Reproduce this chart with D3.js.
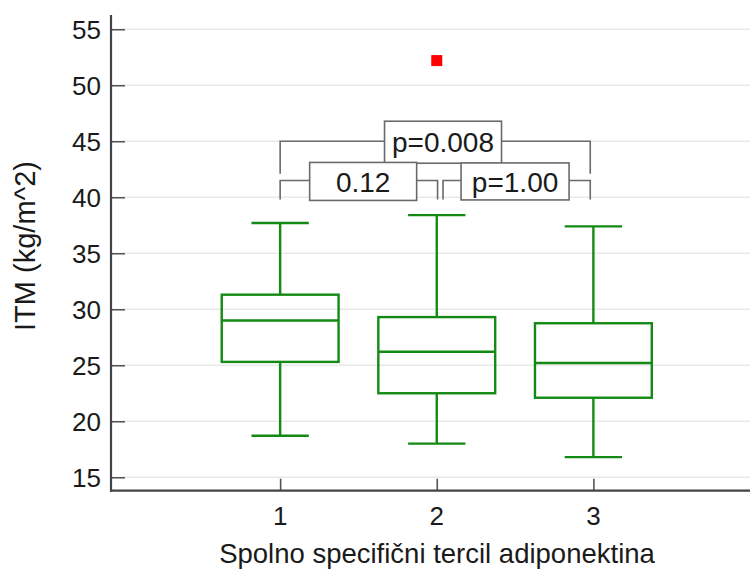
<!DOCTYPE html>
<html>
<head>
<meta charset="utf-8">
<script src="https://cdn.jsdelivr.net/npm/d3@7"></script>
<style>
  html, body { margin: 0; padding: 0; background: #fff; }
  svg { display: block; }
  text { font-family: "Liberation Sans", Arial, sans-serif; fill: #1a1a1a; }
</style>
</head>
<body>
<svg id="chart" width="750" height="571"></svg>
<script>
// ---- data ----
const categories = ["1", "2", "3"];
const whiskerLow  = [18.7, 18.0, 16.8];
const q1          = [25.3, 22.5, 22.1];
const medians     = [29.0, 26.2, 25.2];
const q3          = [31.3, 29.3, 28.75];
const whiskerHigh = [37.7, 38.4, 37.4];
const outlierCategory = ["2"];
const outlierValue    = [52.2];
const yTicks = [15, 20, 25, 30, 35, 40, 45, 50, 55];
const comparisonLabels = ["p=0.008", "0.12", "p=1.00"];
const comparisonFrom   = ["1", "1", "2"];
const comparisonTo     = ["3", "2", "3"];
const yLabel = "ITM (kg/m^2)";
const xLabel = "Spolno specifični tercil adiponektina";

// ---- layout ----
const svg = d3.select("#chart");
const xAxisY = 490.7, yAxisX = 111;
const x = d3.scaleLinear().domain([-0.08, 4.0]).range([yAxisX, 750]);
const y = d3.scaleLinear().domain([13.8, 56.27]).range([xAxisY, 15]);
const cx = c => x(+c);

const green = "#138a13";
const axisCol = "#444";

// gridlines
svg.append("g").selectAll("line").data(yTicks).join("line")
  .attr("x1", yAxisX + 14).attr("x2", 750)
  .attr("y1", d => y(d)).attr("y2", d => y(d))
  .attr("stroke", "#e9e9e9").attr("stroke-width", 1.5);

// y axis
const yAxis = d3.axisRight(y).tickValues(yTicks).tickSize(14).tickFormat("");
const gy = svg.append("g").attr("transform", `translate(${yAxisX},0)`).call(yAxis);
gy.select(".domain").remove();
gy.selectAll(".tick line").attr("stroke", "#555").attr("stroke-width", 1.6);
svg.append("g").selectAll("text").data(yTicks).join("text")
  .attr("x", yAxisX - 10).attr("y", d => y(d)).attr("dy", "0.36em")
  .attr("text-anchor", "end").style("font-size", "26px").text(d => d);

// x axis
const xAxis = d3.axisTop(x).tickValues(categories.map(Number)).tickSize(12).tickFormat("");
const gx = svg.append("g").attr("transform", `translate(0,${xAxisY})`).call(xAxis);
gx.select(".domain").remove();
gx.selectAll(".tick line").attr("stroke", "#555").attr("stroke-width", 1.6);
svg.append("g").selectAll("text").data(categories).join("text")
  .attr("x", d => cx(d)).attr("y", 525)
  .attr("text-anchor", "middle").style("font-size", "26px").text(d => d);

// axis lines
svg.append("line").attr("x1", yAxisX).attr("x2", yAxisX).attr("y1", 15).attr("y2", xAxisY + 1)
  .attr("stroke", axisCol).attr("stroke-width", 2.2);
svg.append("line").attr("x1", yAxisX - 1).attr("x2", 750).attr("y1", xAxisY).attr("y2", xAxisY)
  .attr("stroke", axisCol).attr("stroke-width", 2.2);

// boxes
const boxHalf = 0.373, capHalf = 0.183;
const boxes = categories.map((c, i) => ({ c, lo: whiskerLow[i], q1: q1[i], med: medians[i], q3: q3[i], hi: whiskerHigh[i] }));
const gb = svg.append("g").attr("stroke", green).attr("stroke-width", 2.4).attr("fill", "none");
boxes.forEach(b => {
  const xc = x(+b.c), xl = x(+b.c - boxHalf), xr = x(+b.c + boxHalf);
  const cl = x(+b.c - capHalf), cr = x(+b.c + capHalf);
  gb.append("line").attr("x1", xc).attr("x2", xc).attr("y1", y(b.hi)).attr("y2", y(b.q3));
  gb.append("line").attr("x1", xc).attr("x2", xc).attr("y1", y(b.q1)).attr("y2", y(b.lo));
  gb.append("line").attr("x1", cl).attr("x2", cr).attr("y1", y(b.hi)).attr("y2", y(b.hi));
  gb.append("line").attr("x1", cl).attr("x2", cr).attr("y1", y(b.lo)).attr("y2", y(b.lo));
  gb.append("rect").attr("x", xl).attr("y", y(b.q3)).attr("width", xr - xl).attr("height", y(b.q1) - y(b.q3));
  gb.append("line").attr("x1", xl).attr("x2", xr).attr("y1", y(b.med)).attr("y2", y(b.med));
});

// outliers
svg.append("g").selectAll("rect").data(outlierValue).join("rect")
  .attr("x", (d, i) => cx(outlierCategory[i]) - 5.5).attr("y", d => y(d) - 5.5)
  .attr("width", 11).attr("height", 11).attr("fill", "#ff0000");

// comparison brackets
const bracketSpec = [
  { top: 45.0, drop: 42.1, off0: 0, off1: -0.02, bw: 117, bh: 42, labelShift: 0.04 },
  { top: 41.5, drop: 39.8, off0: 0, off1: 0.005, bw: 107, bh: 38, labelShift: 0.03 },
  { top: 41.5, drop: 39.8, off0: 0.04, off1: -0.02, bw: 108, bh: 37, labelShift: 0.0 }
];
const gc = svg.append("g");
comparisonLabels.forEach((lab, i) => {
  const s = bracketSpec[i];
  const x0 = x(+comparisonFrom[i] + s.off0), x1 = x(+comparisonTo[i] + s.off1);
  const yt = y(s.top), yd = y(s.drop);
  gc.append("path")
    .attr("d", `M${x0},${yd}V${yt}H${x1}V${yd}`)
    .attr("fill", "none").attr("stroke", "#6a6a6a").attr("stroke-width", 1.6);
  const mx = x((+comparisonFrom[i] + +comparisonTo[i]) / 2 + s.labelShift);
  gc.append("rect").attr("x", mx - s.bw / 2).attr("y", yt - s.bh / 2 + 1)
    .attr("width", s.bw).attr("height", s.bh)
    .attr("fill", "#fff").attr("stroke", "#6a6a6a").attr("stroke-width", 1.6);
  gc.append("text").attr("x", mx).attr("y", yt + 1).attr("dy", "0.36em")
    .attr("text-anchor", "middle").style("font-size", "28px").text(lab);
});

// axis titles
svg.append("text").attr("x", 437).attr("y", 563).attr("text-anchor", "middle")
  .style("font-size", "27.5px").text(xLabel);
svg.append("text").attr("transform", "translate(35,246) rotate(-90)")
  .attr("text-anchor", "middle").style("font-size", "29px").text(yLabel);
</script>
</body>
</html>
